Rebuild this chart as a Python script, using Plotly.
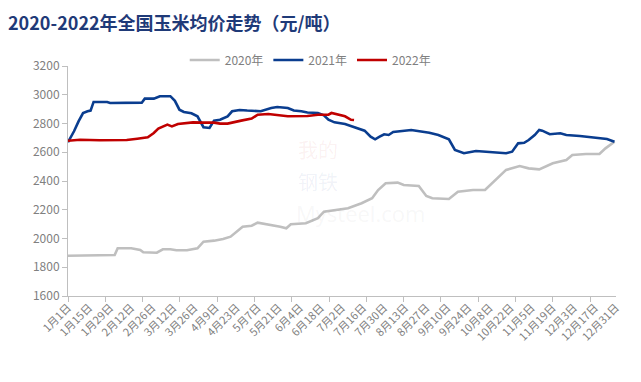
import plotly.graph_objects as go

# ---- data (reference year 2021 used for month-day positions) ----
dates_2020 = ["01-01","02-01","02-03","02-12","02-18","02-20","03-01","03-05","03-10","03-14",
              "03-21","03-28","04-01","04-08","04-14","04-19","04-27","05-03","05-07","05-14",
              "05-22","05-26","05-29","06-08","06-16","06-20","06-25","07-03","07-06","07-15",
              "07-22","07-26","07-31","08-08","08-12","08-22","08-27","08-31","09-11","09-17",
              "09-27","10-05","10-12","10-19","10-28","11-03","11-10","11-19","11-28","12-02",
              "12-11","12-20","12-24","12-27","12-30"]
vals_2020 = [1880,1885,1932,1932,1920,1904,1901,1925,1925,1918,
             1918,1932,1978,1985,1997,2013,2082,2089,2110,2099,
             2082,2071,2099,2106,2141,2187,2195,2205,2210,2245,
             2280,2337,2384,2389,2372,2365,2296,2280,2275,2326,
             2337,2337,2407,2477,2504,2488,2481,2523,2546,2581,
             2588,2588,2627,2650,2673]

dates_2021 = ["01-01","01-05","01-08","01-11","01-14","01-16","01-18","01-27","01-29","02-19",
              "02-21","02-27","03-03","03-10","03-13","03-16","03-19","03-24","03-28","03-30",
              "04-01","04-05","04-08","04-12","04-17","04-20","04-25","04-30","05-09","05-16",
              "05-20","05-27","05-31","06-05","06-09","06-16","06-20","06-23","06-27","07-04",
              "07-13","07-17","07-21","07-24","07-27","07-30","08-02","08-05","08-17","08-29",
              "09-04","09-11","09-15","09-21","09-29","10-08","10-19","10-23","10-27","10-31",
              "11-03","11-07","11-10","11-12","11-17","11-24","11-28","12-07","12-18","12-25",
              "12-30"]
vals_2021 = [2670,2746,2815,2873,2885,2890,2950,2950,2943,2945,
             2973,2973,2990,2990,2958,2896,2880,2871,2850,2815,
             2774,2769,2820,2826,2850,2885,2894,2890,2885,2908,
             2915,2908,2890,2885,2876,2873,2857,2826,2808,2797,
             2767,2750,2708,2690,2708,2725,2720,2741,2755,2736,
             2720,2690,2616,2593,2609,2600,2593,2604,2662,2666,
             2685,2720,2755,2750,2725,2732,2720,2713,2701,2692,
             2673]

dates_2022 = ["01-01","01-09","01-22","02-09","02-16","02-23","02-27","03-02","03-08","03-11",
              "03-15","03-25","04-01","04-08","04-12","04-17","04-26","05-03","05-07","05-14",
              "05-27","06-09","06-16","06-23","06-25","06-29","07-04","07-08","07-10"]
vals_2022 = [2680,2687,2683,2685,2694,2704,2734,2764,2792,2780,
             2797,2808,2806,2806,2799,2799,2820,2834,2861,2866,
             2850,2852,2861,2861,2873,2861,2850,2826,2824]

tick_dates = ["01-01","01-15","01-29","02-12","02-26","03-12","03-26","04-09","04-23",
              "05-07","05-21","06-04","06-18","07-02","07-16","07-30","08-13","08-27",
              "09-10","09-24","10-08","10-22","11-05","11-19","12-03","12-17","12-31"]
tick_labels = ["1月1日","1月15日","1月29日","2月12日","2月26日","3月12日","3月26日","4月9日","4月23日",
               "5月7日","5月21日","6月4日","6月18日","7月2日","7月16日","7月30日","8月13日","8月27日",
               "9月10日","9月24日","10月8日","10月22日","11月5日","11月19日","12月3日","12月17日","12月31日"]

series_names = ["2020年", "2021年", "2022年"]
colors = ["#BFBFBF", "#0A3D8F", "#C00000"]

def full(ds):
    return ["2021-" + d for d in ds]

fig = go.Figure()
for name, ds, vs, c in zip(series_names, [dates_2020, dates_2021, dates_2022],
                           [vals_2020, vals_2021, vals_2022], colors):
    fig.add_trace(go.Scatter(x=full(ds), y=vs, name=name, mode="lines",
                             line=dict(color=c, width=2.6, shape="linear")))

font_main = "Noto Sans CJK SC, Noto Sans, sans-serif"

# faint watermark (kept apart so texts do not overlap)
fig.add_annotation(text="我的", x=0.456, y=0.635, xref="paper", yref="paper", showarrow=False,
                   font=dict(size=20, color="rgba(200,60,60,0.07)", family=font_main))
fig.add_annotation(text="钢铁", x=0.456, y=0.50, xref="paper", yref="paper", showarrow=False,
                   font=dict(size=20, color="rgba(40,70,150,0.07)", family=font_main))
fig.add_annotation(text="Mysteel.com", x=0.533, y=0.36, xref="paper", yref="paper", showarrow=False,
                   font=dict(size=22, color="rgba(150,150,150,0.08)", family="Open Sans, sans-serif"))

# page body adds an 8px margin, so the figure is sized/offset to compensate
fig.update_layout(
    width=633, height=374,
    margin=dict(l=60, r=25, t=58, b=86, autoexpand=False),
    paper_bgcolor="white", plot_bgcolor="white",
    title=dict(text="<b>2020-2022年全国玉米均价走势（元/吨）</b>", x=0.0, xanchor="left",
               y=0.957, yanchor="middle",
               font=dict(size=18, color="#1F3A78", family=font_main)),
    legend=dict(orientation="h", x=0.442, xanchor="center", y=1.026, yanchor="middle",
                font=dict(size=12, color="#808080", family=font_main),
                itemwidth=30, tracegroupgap=0, bgcolor="rgba(0,0,0,0)"),
    showlegend=True,
)

fig.update_xaxes(
    type="date", range=["2021-01-01", "2021-12-31"], automargin=False,
    tickvals=full(tick_dates), ticktext=tick_labels, tickangle=-45,
    tickfont=dict(size=11, color="#808080", family=font_main),
    showgrid=False, zeroline=False,
    showline=True, linecolor="#BFBFBF", linewidth=1,
    ticks="",
    minor=dict(ticks="outside", ticklen=5, tickcolor="#BFBFBF", showgrid=False,
               tick0="2021-01-01", dtick=24.77 * 86400000),
)
fig.update_yaxes(
    range=[1600, 3200], dtick=200, tick0=1600, automargin=False,
    tickfont=dict(size=12, color="#808080", family=font_main),
    showgrid=False, zeroline=False,
    showline=True, linecolor="#BFBFBF", linewidth=1,
    ticks="outside", ticklen=5, tickcolor="#BFBFBF",
)

fig.write_html("out.html")
